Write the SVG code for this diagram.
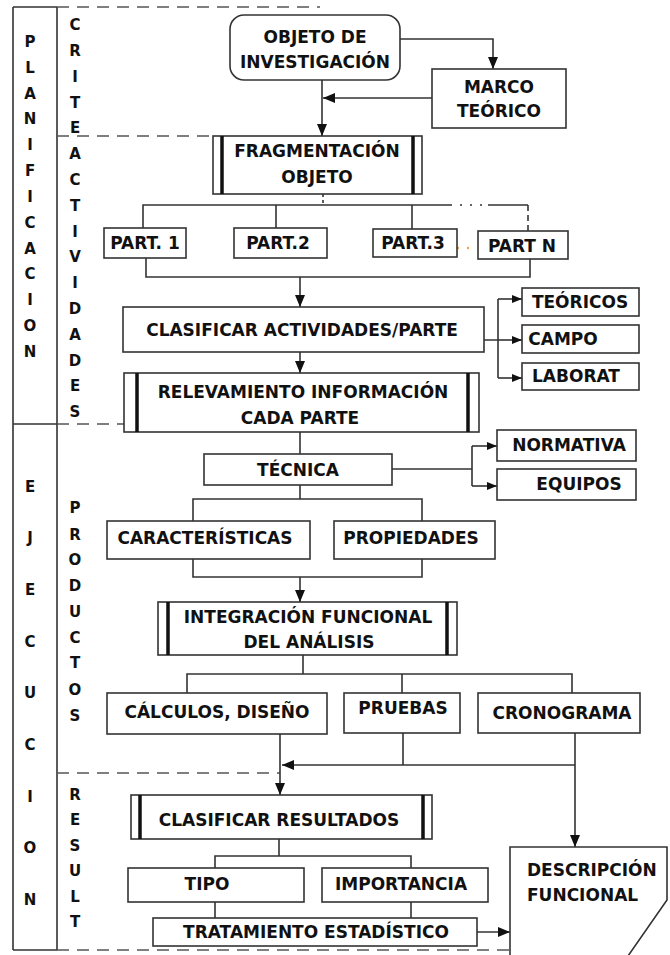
<svg xmlns="http://www.w3.org/2000/svg" width="670" height="955" viewBox="0 0 670 955">
<style>
.bx{fill:#fff;stroke:#333;stroke-width:1.6}
.bar{stroke:#111;stroke-width:3.5}
.ln{fill:none;stroke:#333;stroke-width:1.6}
.dl{fill:none;stroke:#555;stroke-width:1.6;stroke-dasharray:12 8}
.t{font-family:"DejaVu Sans","Liberation Sans",sans-serif;font-weight:bold;font-size:17px;text-anchor:middle;fill:#111}
.tl{font-family:"DejaVu Sans","Liberation Sans",sans-serif;font-weight:bold;font-size:17px;fill:#111}
.c{font-family:"DejaVu Sans","Liberation Sans",sans-serif;font-weight:bold;font-size:15px;text-anchor:middle;fill:#111}
</style>
<defs>
<marker id="ah" viewBox="0 0 12 10" refX="12" refY="5" markerWidth="12" markerHeight="10" markerUnits="userSpaceOnUse" orient="auto"><path d="M0,0 L12,5 L0,10 z" fill="#111"/></marker>
<marker id="ahs" viewBox="0 0 10 8" refX="10" refY="4" markerWidth="10" markerHeight="8" markerUnits="userSpaceOnUse" orient="auto"><path d="M0,0 L10,4 L0,8 z" fill="#111"/></marker>
</defs>
<rect width="670" height="955" fill="#fff"/>

<g id="frame">
<path class="ln" d="M13,7 V950 M57,7 V950 M13,7 H57 M13,424 H57 M13,950 H57"/>
<path class="dl" d="M57,7 H320 M57,136 H213 M57,424 H124 M57,773 H280 M57,950 H510"/>
</g>

<g id="col-planificacion">
<text class="c" x="30" y="47">P</text><text class="c" x="30" y="73">L</text><text class="c" x="30" y="99">A</text><text class="c" x="30" y="124">N</text><text class="c" x="30" y="150">I</text><text class="c" x="30" y="176">F</text><text class="c" x="30" y="202">I</text><text class="c" x="30" y="228">C</text><text class="c" x="30" y="254">A</text><text class="c" x="30" y="279">C</text><text class="c" x="30" y="305">I</text><text class="c" x="30" y="331">O</text><text class="c" x="30" y="357">N</text>
</g>
<g id="col-ejecucion">
<text class="c" x="30" y="492">E</text><text class="c" x="30" y="543">J</text><text class="c" x="30" y="595">E</text><text class="c" x="30" y="647">C</text><text class="c" x="30" y="698">U</text><text class="c" x="30" y="750">C</text><text class="c" x="30" y="802">I</text><text class="c" x="30" y="853">O</text><text class="c" x="30" y="905">N</text>
</g>
<g id="col-criterios">
<text class="c" x="75" y="30">C</text><text class="c" x="75" y="56">R</text><text class="c" x="75" y="82">I</text><text class="c" x="75" y="108">T</text><text class="c" x="75" y="133">E</text>
</g>
<g id="col-actividades">
<text class="c" x="75" y="159">A</text><text class="c" x="75" y="185">C</text><text class="c" x="75" y="211">T</text><text class="c" x="75" y="237">I</text><text class="c" x="75" y="262">V</text><text class="c" x="75" y="288">I</text><text class="c" x="75" y="314">D</text><text class="c" x="75" y="340">A</text><text class="c" x="75" y="366">D</text><text class="c" x="75" y="391">E</text><text class="c" x="75" y="417">S</text>
</g>
<g id="col-productos">
<text class="c" x="75" y="513">P</text><text class="c" x="75" y="540">R</text><text class="c" x="75" y="565">O</text><text class="c" x="75" y="591">D</text><text class="c" x="75" y="617">U</text><text class="c" x="75" y="643">C</text><text class="c" x="75" y="668">T</text><text class="c" x="75" y="695">O</text><text class="c" x="75" y="721">S</text>
</g>
<g id="col-result">
<text class="c" x="75" y="800">R</text><text class="c" x="75" y="825">E</text><text class="c" x="75" y="851">S</text><text class="c" x="75" y="876">U</text><text class="c" x="75" y="902">L</text><text class="c" x="75" y="927">T</text>
</g>

<g id="connectors">
<path class="ln" d="M322,80 V136" marker-end="url(#ah)"/>
<path class="ln" d="M400,39 H493 V69" marker-end="url(#ah)"/>
<path class="ln" d="M432,98 H323" marker-end="url(#ah)"/>
<path class="ln" d="M323,194 V205" stroke-dasharray="3 3"/>
<path class="ln" d="M143,228 V205 H450 M488,205 H528 M276,205 V228 M412,205 V229"/>
<path class="ln" d="M528,205 V231" stroke-dasharray="6 4"/>
<path class="ln" d="M450,205 H488" stroke-dasharray="2 8"/>
<path class="ln" d="M146,258 V277 H530 V259"/>
<path class="ln" d="M300,277 V307" marker-end="url(#ah)"/>
<path class="ln" d="M300,352 V373" marker-end="url(#ah)"/>
<path class="ln" d="M484,340 H498 M498,299 V378"/>
<path class="ln" d="M498,299 H522" marker-end="url(#ahs)"/>
<path class="ln" d="M498,340 H522" marker-end="url(#ahs)"/>
<path class="ln" d="M498,378 H522" marker-end="url(#ahs)"/>
<path class="ln" d="M300,432 V454"/>
<path class="ln" d="M392,469 H472 M472,446 V486"/>
<path class="ln" d="M472,446 H497" marker-end="url(#ahs)"/>
<path class="ln" d="M472,486 H497" marker-end="url(#ahs)"/>
<path class="ln" d="M300,485 V499 M193,521 V499 H422 V521"/>
<path class="ln" d="M193,559 V577 H422 V559"/>
<path class="ln" d="M300,577 V602" marker-end="url(#ah)"/>
<path class="ln" d="M303,655 V674 M187,693 V674 H572 V693 M402,674 V693"/>
<path class="ln" d="M280,734 V795" marker-end="url(#ah)"/>
<path class="ln" d="M403,733 V765"/>
<path class="ln" d="M575,765 H282" marker-end="url(#ah)"/>
<path class="ln" d="M575,733 V847" marker-end="url(#ah)"/>
<path class="ln" d="M279,839 V856 M215,868 V856 H411 V868"/>
<path class="ln" d="M215,902 V918 M411,902 V918"/>
<path class="ln" d="M477,932 H510" marker-end="url(#ah)"/>
<g fill="#f0a040"><circle cx="458" cy="248" r="1.2"/><circle cx="468" cy="248" r="1.2"/><circle cx="480" cy="248" r="1.2"/></g>
</g>

<g id="objeto">
<rect class="bx" x="230" y="15" width="170" height="65" rx="14"/>
<text class="t" x="315" y="43">OBJETO DE</text>
<text class="t" x="315" y="68">INVESTIGACIÓN</text>
</g>
<g id="marco">
<rect class="bx" x="432" y="69" width="134" height="59"/>
<text class="t" x="499" y="93">MARCO</text>
<text class="t" x="499" y="117">TEÓRICO</text>
</g>
<g id="fragmentacion">
<rect class="bx" x="213" y="136" width="209" height="58"/>
<path class="bar" d="M222,136 V194 M413,136 V194"/>
<text class="t" x="317" y="157">FRAGMENTACIÓN</text>
<text class="t" x="317" y="183">OBJETO</text>
</g>
<g id="part1"><rect class="bx" x="104" y="228" width="82" height="30"/><text class="t" x="145" y="249">PART. 1</text></g>
<g id="part2"><rect class="bx" x="234" y="228" width="93" height="30"/><text class="t" x="278" y="249">PART.2</text></g>
<g id="part3"><rect class="bx" x="373" y="229" width="84" height="28"/><text class="t" x="413" y="249">PART.3</text></g>
<g id="partn"><rect class="bx" x="478" y="231" width="90" height="28"/><text class="t" x="522" y="252">PART N</text></g>
<g id="clasificar-actividades">
<rect class="bx" x="123" y="307" width="361" height="45"/>
<text class="t" x="302" y="336">CLASIFICAR ACTIVIDADES/PARTE</text>
</g>
<g id="teoricos"><rect class="bx" x="522" y="288" width="117" height="28"/><text class="t" x="580" y="308">TEÓRICOS</text></g>
<g id="campo"><rect class="bx" x="522" y="325" width="117" height="28"/><text class="t" x="563" y="345">CAMPO</text></g>
<g id="laborat"><rect class="bx" x="522" y="363" width="117" height="27"/><text class="t" x="576" y="382">LABORAT</text></g>
<g id="relevamiento">
<rect class="bx" x="124" y="373" width="355" height="59"/>
<path class="bar" d="M137,373 V432 M468,373 V432"/>
<text class="t" x="303" y="398">RELEVAMIENTO INFORMACIÓN</text>
<text class="t" x="300" y="424">CADA PARTE</text>
</g>
<g id="tecnica"><rect class="bx" x="204" y="454" width="188" height="31"/><text class="t" x="298" y="476">TÉCNICA</text></g>
<g id="normativa"><rect class="bx" x="497" y="430" width="139" height="31"/><text class="t" x="569" y="451">NORMATIVA</text></g>
<g id="equipos"><rect class="bx" x="497" y="469" width="139" height="31"/><text class="t" x="579" y="490">EQUIPOS</text></g>
<g id="caracteristicas"><rect class="bx" x="107" y="521" width="203" height="38"/><text class="t" x="205" y="544">CARACTERÍSTICAS</text></g>
<g id="propiedades"><rect class="bx" x="334" y="521" width="161" height="38"/><text class="t" x="411" y="544">PROPIEDADES</text></g>
<g id="integracion">
<rect class="bx" x="158" y="602" width="299" height="53"/>
<path class="bar" d="M168,602 V655 M447,602 V655"/>
<text class="t" x="308" y="623">INTEGRACIÓN FUNCIONAL</text>
<text class="t" x="309" y="648">DEL ANÁLISIS</text>
</g>
<g id="calculos"><rect class="bx" x="107" y="693" width="220" height="41"/><text class="t" x="217" y="718">CÁLCULOS, DISEÑO</text></g>
<g id="pruebas"><rect class="bx" x="344" y="693" width="116" height="40"/><text class="t" x="403" y="714">PRUEBAS</text></g>
<g id="cronograma"><rect class="bx" x="478" y="693" width="162" height="40"/><text class="t" x="562" y="719">CRONOGRAMA</text></g>
<g id="clasificar-resultados">
<rect class="bx" x="131" y="795" width="301" height="44"/>
<path class="bar" d="M140,795 V839 M423,795 V839"/>
<text class="t" x="279" y="826">CLASIFICAR RESULTADOS</text>
</g>
<g id="tipo"><rect class="bx" x="128" y="868" width="176" height="34"/><text class="t" x="207" y="890">TIPO</text></g>
<g id="importancia"><rect class="bx" x="322" y="868" width="166" height="34"/><text class="t" x="401" y="890">IMPORTANCIA</text></g>
<g id="tratamiento"><rect class="bx" x="153" y="918" width="324" height="28"/><text class="t" x="316" y="938">TRATAMIENTO ESTADÍSTICO</text></g>
<g id="descripcion">
<path class="bx" d="M510,956 V847 H667 V900 L628,956"/>
<text class="tl" x="527" y="876">DESCRIPCIÓN</text>
<text class="tl" x="527" y="901">FUNCIONAL</text>
</g>
</svg>
